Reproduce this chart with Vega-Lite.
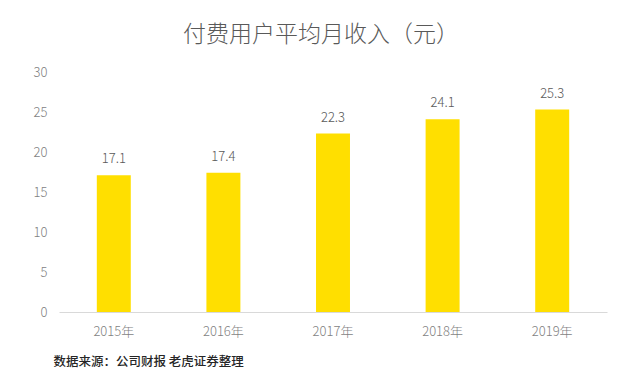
{
  "$schema": "https://vega.github.io/schema/vega-lite/v6.json",
  "width": 548,
  "height": 240,
  "autosize": {"type": "none"},
  "padding": {"left": 59, "top": 72, "right": 33, "bottom": 67},
  "background": "white",
  "title": {
    "text": "付费用户平均月收入（元）",
    "font": "Noto Sans CJK SC",
    "fontSize": 23,
    "fontWeight": 300,
    "color": "#595959",
    "anchor": "middle",
    "dx": -12,
    "offset": 19
  },
  "data": {
    "values": [
      {"year": "2015年", "value": 17.1},
      {"year": "2016年", "value": 17.4},
      {"year": "2017年", "value": 22.3},
      {"year": "2018年", "value": 24.1},
      {"year": "2019年", "value": 25.3}
    ]
  },
  "config": {
    "view": {"stroke": null},
    "font": "Noto Sans CJK SC"
  },
  "encoding": {
    "x": {
      "field": "year",
      "type": "nominal",
      "sort": null,
      "scale": {"paddingInner": 0.69, "paddingOuter": 0.345},
      "axis": {
        "labelAngle": 0,
        "labelFont": "Noto Sans CJK SC",
        "labelFontSize": 13,
        "labelFontWeight": 300,
        "labelColor": "#7f7f7f",
        "labelPadding": 13,
        "ticks": false,
        "domainColor": "#d9d9d9",
        "domainWidth": 1,
        "title": "数据来源：公司财报 老虎证券整理",
        "titleFont": "Noto Sans CJK SC",
        "titleFontSize": 12.5,
        "titleFontWeight": 500,
        "titleColor": "#262626",
        "titleAnchor": "start",
        "titleAlign": "left",
        "titleBaseline": "middle",
        "titleX": -6,
        "titleY": 49
      }
    },
    "y": {
      "field": "value",
      "type": "quantitative",
      "scale": {"domain": [0, 30]},
      "axis": {
        "values": [0, 5, 10, 15, 20, 25, 30],
        "grid": false,
        "domain": false,
        "ticks": false,
        "labelFont": "Noto Sans CJK SC",
        "labelFontSize": 13,
        "labelFontWeight": 300,
        "labelColor": "#7f7f7f",
        "labelPadding": 12,
        "title": null
      }
    }
  },
  "layer": [
    {"mark": {"type": "bar", "color": "#FFDF00"}},
    {
      "mark": {
        "type": "text",
        "baseline": "bottom",
        "dy": -9,
        "fontSize": 13,
        "fontWeight": 300,
        "color": "#595959",
        "font": "Noto Sans CJK SC"
      },
      "encoding": {"text": {"field": "value", "type": "quantitative", "format": ".1f"}}
    }
  ]
}
